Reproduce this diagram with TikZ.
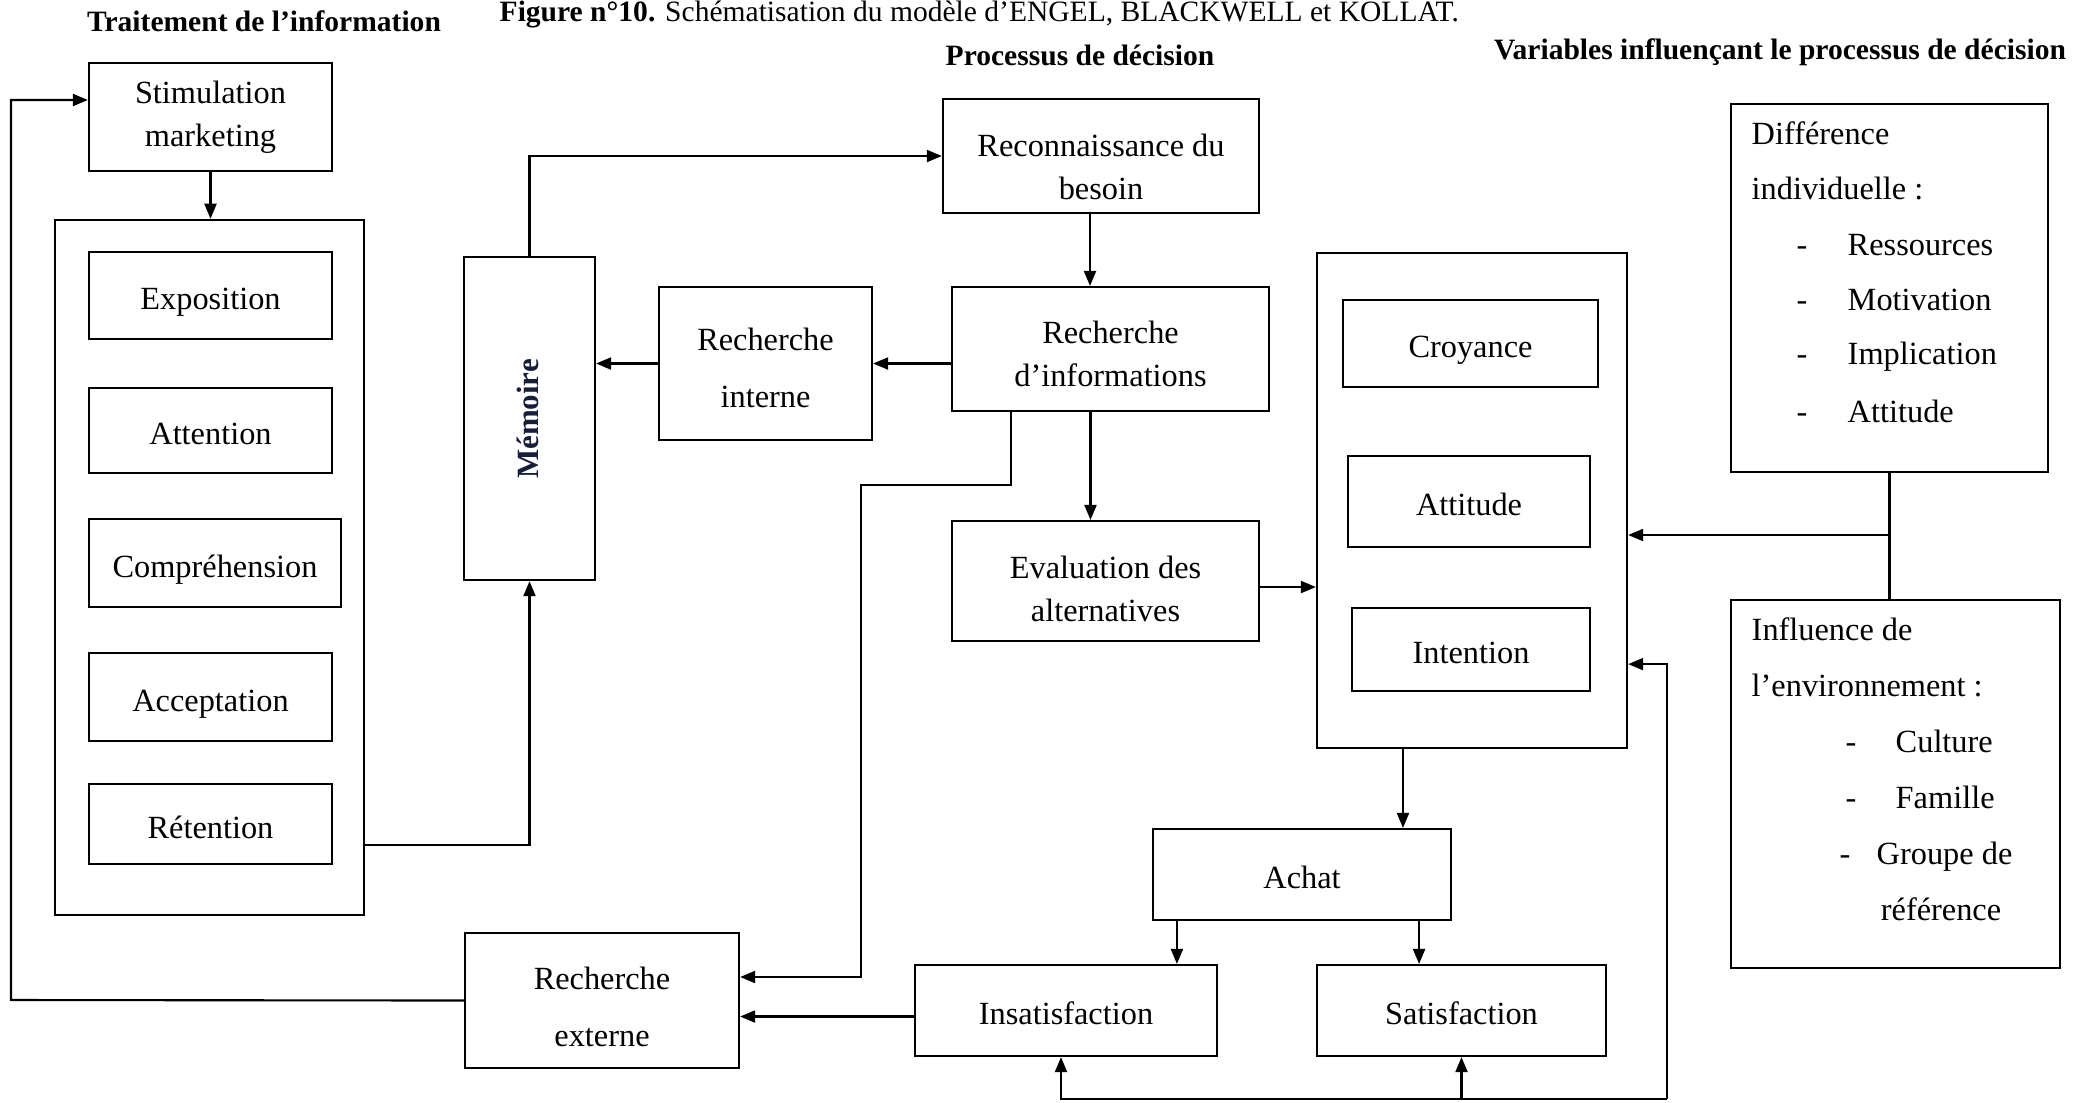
\documentclass[tikz,border=0pt]{standalone}
\usepackage{fontspec}
\setmainfont{Liberation Serif}
\usetikzlibrary{arrows.meta}
\newcommand\txtsize{\fontsize{9.2}{12.2}\selectfont}
\newcommand\headsize{\fontsize{8.4}{10}\selectfont\bfseries}
\definecolor{memink}{RGB}{22,30,58}
\begin{document}
\begin{tikzpicture}[x=0.01cm,y=-0.01cm,
  box/.style={draw,line width=0.6pt,inner sep=0pt,align=center,font=\txtsize},
  sbox/.style={box,text height=1em,text depth=0.2em},
  txt/.style={inner sep=0pt,font=\txtsize},
  ctxt/.style={txt,align=center},
  head/.style={inner sep=0pt,font=\headsize},
  link/.style={line width=0.6pt},
  arr/.style={line width=0.6pt,-{Triangle[length=0.15cm,width=0.12cm]}}]
\useasboundingbox (0,0) rectangle (2091,1102);

% headings
\node[inner sep=0pt,anchor=base west,font=\fontsize{8.4}{10}\selectfont] (title) at (499,21)
  {\textbf{Figure n°10.} Schématisation du modèle d’ENGEL, BLACKWELL et KOLLAT.};
\node[head] (h1) at (264,21) {Traitement de l’information};
\node[head] (h2) at (1080,55) {Processus de décision};
\node[head] (h3) at (1780,52) {Variables influençant le processus de décision};

% information processing
\node[box,minimum width=2.43cm,minimum height=1.08cm] (stim) at (210.5,117) {Stimulation\\marketing};
\node[box,minimum width=3.09cm,minimum height=6.95cm] (outer) at (209.5,567.5) {};
\node[sbox,minimum width=2.43cm,minimum height=0.87cm] (expo) at (210.5,295.5) {Exposition};
\node[sbox,minimum width=2.43cm,minimum height=0.85cm] (atten) at (210.5,430.5) {Attention};
\node[sbox,minimum width=2.52cm,minimum height=0.88cm] (compr) at (215,563) {Compréhension};
\node[sbox,minimum width=2.43cm,minimum height=0.88cm] (accep) at (210.5,697) {Acceptation};
\node[sbox,minimum width=2.43cm,minimum height=0.80cm] (reten) at (210.5,824) {Rétention};

\node[box,minimum width=1.31cm,minimum height=3.23cm] (mem) at (529.5,418.5) {};
\node[inner sep=0pt,rotate=90,text=memink,font=\fontsize{8.8}{10}\selectfont\bfseries] (memlabel) at (528,419) {Mémoire};

% decision process
\node[box,minimum width=2.13cm,minimum height=1.53cm] (rint) at (765.5,363.5) {};
\node[ctxt] (rintlabel) at ([yshift=-0.04cm]rint.center) {Recherche\\[4pt]interne};
\node[box,minimum width=3.16cm,minimum height=1.14cm] (recon) at (1101,156) {};
\node[ctxt] (reconlabel) at ([yshift=-0.11cm]recon.center) {Reconnaissance du\\besoin};
\node[box,minimum width=3.17cm,minimum height=1.24cm] (rinfo) at (1110.5,349) {};
\node[ctxt] (rinfolabel) at ([yshift=-0.045cm]rinfo.center) {Recherche\\d’informations};
\node[box,minimum width=3.07cm,minimum height=1.20cm] (eval) at (1105.5,581) {};
\node[ctxt] (evallabel) at ([yshift=-0.08cm]eval.center) {Evaluation des\\alternatives};

\node[box,minimum width=3.10cm,minimum height=4.95cm] (big) at (1472,500.5) {};
\node[sbox,minimum width=2.55cm,minimum height=0.87cm] (croy) at (1470.5,343.5) {Croyance};
\node[sbox,minimum width=2.42cm,minimum height=0.91cm] (attit) at (1469,501.5) {Attitude};
\node[sbox,minimum width=2.38cm,minimum height=0.83cm] (inten) at (1471,649.5) {Intention};

\node[sbox,minimum width=2.98cm,minimum height=0.91cm] (achat) at (1302,874.5) {Achat};
\node[sbox,minimum width=3.02cm,minimum height=0.91cm] (insat) at (1066,1010.5) {Insatisfaction};
\node[sbox,minimum width=2.89cm,minimum height=0.91cm] (satis) at (1461.5,1010.5) {Satisfaction};
\node[box,minimum width=2.74cm,minimum height=1.35cm] (rext) at (602,1000.5) {};
\node[ctxt] (rextlabel) at ([yshift=-0.065cm]rext.center) {Recherche\\[4pt]externe};

% influencing variables
\node[box,minimum width=3.17cm,minimum height=3.68cm] (diff) at (1889.5,288) {};
\node[txt,anchor=mid west] (d1) at (1751,136) {Différence};
\node[txt,anchor=mid west] (d2) at (1751,191) {individuelle :};
\node[txt,anchor=mid west] (d3) at (1796,247) {\makebox[0.51cm][l]{-}Ressources};
\node[txt,anchor=mid west] (d4) at (1796,302) {\makebox[0.51cm][l]{-}Motivation};
\node[txt,anchor=mid west] (d5) at (1796,356) {\makebox[0.51cm][l]{-}Implication};
\node[txt,anchor=mid west] (d6) at (1796,414) {\makebox[0.51cm][l]{-}Attitude};

\node[box,minimum width=3.29cm,minimum height=3.68cm] (infl) at (1895.5,784) {};
\node[txt,anchor=mid west] (e1) at (1751,632) {Influence de};
\node[txt,anchor=mid west] (e2) at (1751,688) {l’environnement :};
\node[txt,anchor=mid west] (e3) at (1845,744) {\makebox[0.50cm][l]{-}Culture};
\node[txt,anchor=mid west] (e4) at (1845,800) {\makebox[0.50cm][l]{-}Famille};
\node[txt,anchor=mid west] (e5) at (1839,856) {\makebox[0.37cm][l]{-}Groupe de};
\node[txt,anchor=mid] (e6) at (1941,912) {référence};

% connectors
\coordinate (lx) at (11,1000);
\draw[arr] (rext.west) -- (lx) |- ([yshift=0.17cm]stim.west);
\draw[arr] (stim.south) -- (stim.south |- outer.north);
\draw[arr] ([yshift=-2.775cm]outer.east) -| (mem.south);
\draw[arr] (mem.north) |- (recon.west);
\draw[arr] ([xshift=-0.11cm]recon.south) -- ([xshift=-0.11cm]recon.south |- rinfo.north);
\draw[arr] (rint.east -| rinfo.west) -- (rint.east);
\draw[arr] (rint.west) -- (rint.west -| mem.east);
\coordinate (k1) at (861,485);
\draw[arr] ([xshift=-0.995cm]rinfo.south) |- (k1) |- ([yshift=0.235cm]rext.east);
\draw[arr] ([xshift=-0.2cm]rinfo.south) -- ([xshift=-0.2cm]rinfo.south |- eval.north);
\draw[arr] ([yshift=-0.06cm]eval.east) -- ([yshift=-0.06cm]eval.east -| big.west);
\draw[link] (diff.south) -- (diff.south |- infl.north);
\coordinate (jn) at (1889.5,535);
\draw[arr] (jn) -- (jn -| big.east);
\draw[arr] ([xshift=-0.69cm]big.south) -- ([xshift=-0.69cm]big.south |- achat.north);
\draw[arr] ([xshift=-1.25cm]achat.south) -- ([xshift=-1.25cm]achat.south |- insat.north);
\draw[arr] ([xshift=1.17cm]achat.south) -- ([xshift=1.17cm]achat.south |- satis.north);
\draw[arr] ([yshift=-0.06cm]insat.west) -- ([yshift=-0.06cm]insat.west -| rext.east);
\coordinate (fb) at (1667,1099);
\draw[arr] (fb) |- ([yshift=-1.635cm]big.east);
\draw[arr] (fb) -| ([xshift=-0.05cm]insat.south);
\draw[arr] (satis.south |- fb) -- (satis.south);
\end{tikzpicture}
\end{document}
